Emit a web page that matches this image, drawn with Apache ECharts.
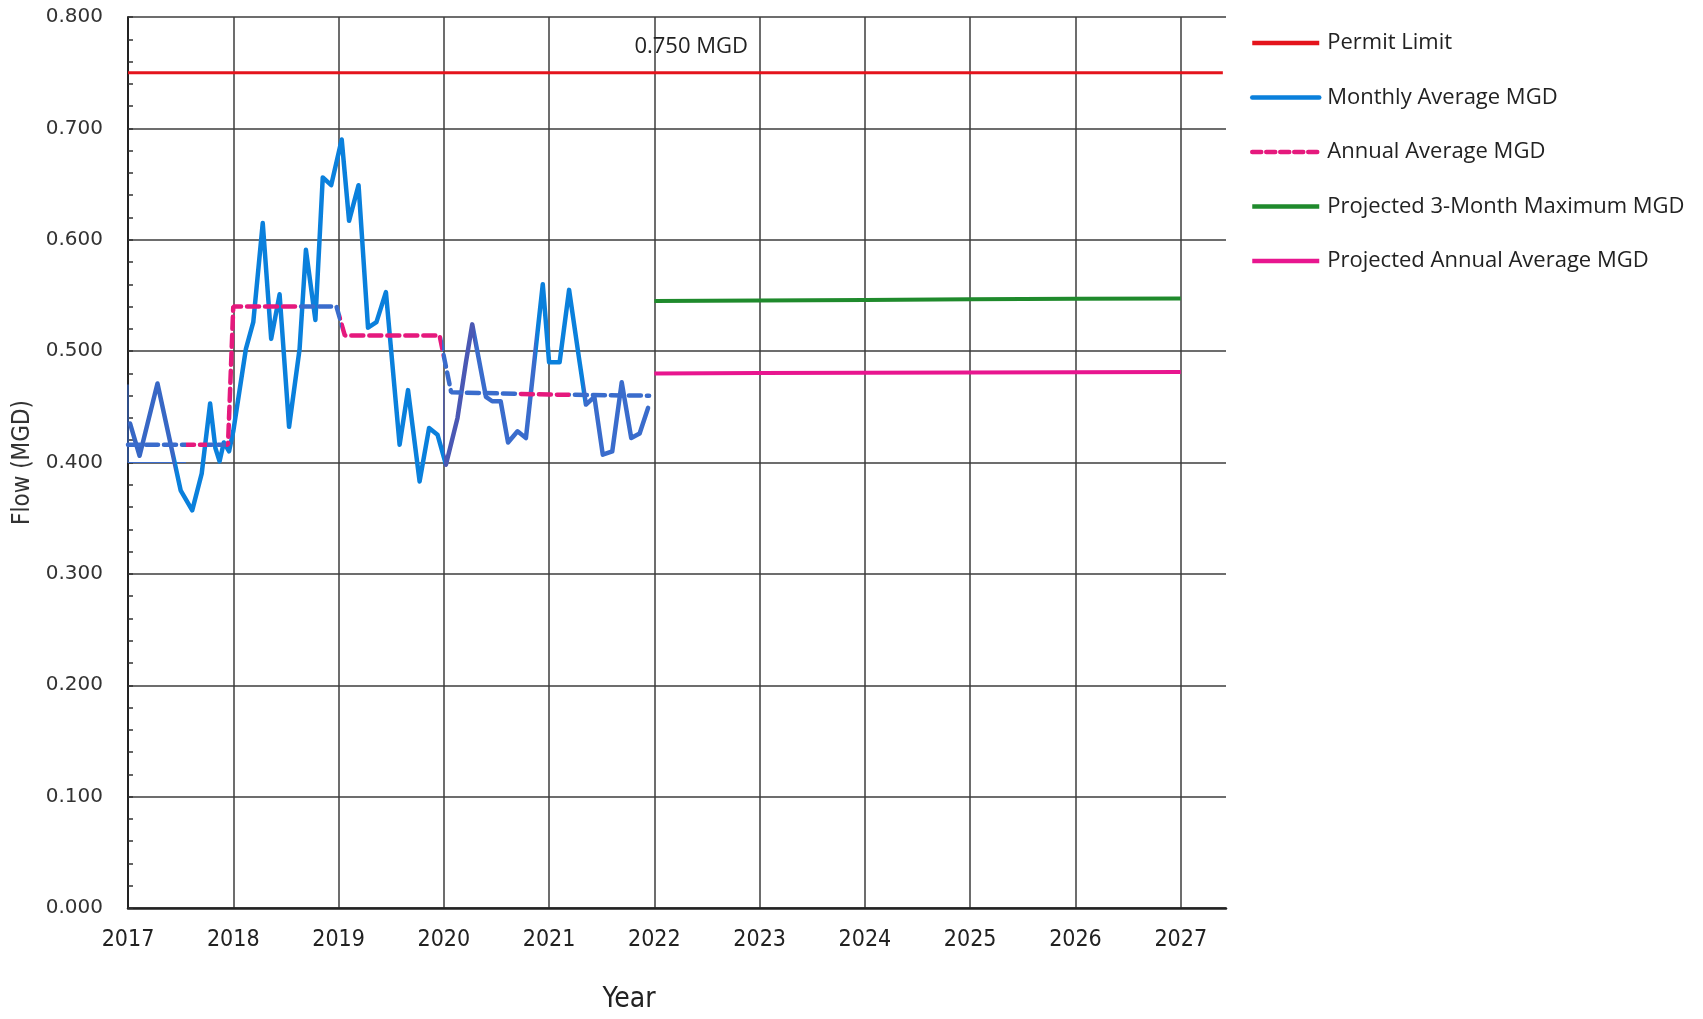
<!DOCTYPE html>
<html><head><meta charset="utf-8">
<script src="https://cdn.jsdelivr.net/npm/echarts@6/dist/echarts.min.js"></script>
<style>html,body{margin:0;padding:0;background:#fff}#c{width:1703px;height:1019px}</style>
</head><body><div id="c"></div>
<script>
// ---- data ----
const permitLimit = 0.750;
const permitYears = [2017, 2027.4];
const permitLabelYear = 2022.35;

const monthlyYears = [2017.02, 2017.11, 2017.28, 2017.50, 2017.61, 2017.70, 2017.78, 2017.83, 2017.87, 2017.91, 2017.96,
  2018.00, 2018.12, 2018.19, 2018.28, 2018.36, 2018.44, 2018.53, 2018.63, 2018.69, 2018.78, 2018.85, 2018.93,
  2019.03, 2019.10, 2019.19, 2019.28, 2019.36, 2019.45, 2019.58, 2019.66, 2019.77, 2019.86, 2019.94,
  2020.02, 2020.13, 2020.21, 2020.27, 2020.40, 2020.46, 2020.54, 2020.61, 2020.70, 2020.78, 2020.94,
  2021.00, 2021.10, 2021.19, 2021.29, 2021.35, 2021.43, 2021.51, 2021.60, 2021.69, 2021.78, 2021.86, 2021.94];
const monthlyFlow = [0.435, 0.406, 0.471, 0.375, 0.357, 0.390, 0.453, 0.413, 0.401, 0.418, 0.410,
  0.428, 0.502, 0.526, 0.615, 0.511, 0.551, 0.432, 0.502, 0.591, 0.528, 0.656, 0.649,
  0.690, 0.617, 0.649, 0.521, 0.526, 0.553, 0.416, 0.465, 0.383, 0.431, 0.425,
  0.398, 0.440, 0.490, 0.524, 0.459, 0.455, 0.455, 0.418, 0.428, 0.422, 0.560,
  0.490, 0.490, 0.555, 0.490, 0.452, 0.459, 0.407, 0.410, 0.472, 0.422, 0.426, 0.449];

const annualYears = [2017.0, 2017.95, 2018.0, 2018.98, 2019.06, 2019.96, 2020.07, 2021.0, 2021.95];
const annualFlow  = [0.416, 0.416, 0.540, 0.540, 0.514, 0.514, 0.463, 0.461, 0.460];

const projYears = [2022, 2023, 2024, 2025, 2026, 2027];
const proj3MonthMax = [0.545, 0.5455, 0.546, 0.5465, 0.547, 0.5473];
const projAnnualAvg = [0.480, 0.4803, 0.4806, 0.4808, 0.481, 0.4812];

// thin blue guide strokes visible in the original graphic
const guide2017Years = [2017, 2017, 2017.55];
const guide2017Flow  = [0.470, 0.400, 0.400];
const guide2020Years = [2020, 2020];
const guide2020Flow  = [0.469, 0.400];

const seriesNames = ['Permit Limit', 'Monthly Average MGD', 'Annual Average MGD',
  'Projected 3-Month Maximum MGD', 'Projected Annual Average MGD'];

// ---- build ----
const zip = (xs, ys) => xs.map((x, i) => [x, ys[i]]);
const C = {
  red: '#e4141c', blueL: '#0a80dc', blueD: '#3a6ccc', blueP: '#4a58b4', blueS: '#3767c5',
  pink: '#e5197d', green: '#1f8a2c', magenta: '#e8168f'
};
const condensed = "'Liberation Sans Narrow','DejaVu Sans Condensed','Roboto Condensed',sans-serif";
const hideSym = {opacity: 0};
const chart = echarts.init(document.getElementById('c'), null, {renderer: 'canvas'});
const option = {
  animation: false,
  backgroundColor: '#fff',
  grid: {left: 128, right: 477, top: 17, bottom: 102, containLabel: false},
  xAxis: {
    type: 'value', min: 2017, max: 2027.43, interval: 1,
    name: 'Year', nameLocation: 'middle', nameGap: 78,
    nameTextStyle: {fontFamily: condensed, fontSize: 28, color: '#222', padding: [0, 96, 0, 0]},
    axisLine: {show: true, lineStyle: {color: '#222', width: 2.5}},
    axisTick: {show: false},
    axisLabel: {fontFamily: condensed, fontSize: 23, color: '#222', margin: 21, showMaxLabel: false,
      formatter: v => Number.isInteger(v) ? String(v) : ''},
    splitLine: {show: true, showMaxLine: false, lineStyle: {color: '#3c3c3c', width: 1.5}}
  },
  yAxis: {
    type: 'value', min: 0, max: 0.8, interval: 0.1,
    name: 'Flow (MGD)', nameLocation: 'middle', nameGap: 87,
    nameTextStyle: {fontFamily: condensed, fontSize: 24, color: '#333'},
    axisLine: {show: true, lineStyle: {color: '#222', width: 2}},
    axisTick: {show: true, inside: true, length: 5, lineStyle: {color: '#333', width: 1.5}},
    minorTick: {show: true, splitNumber: 5, length: 5, lineStyle: {color: '#333', width: 1.5}},
    axisLabel: {fontFamily: 'DejaVu Sans', fontSize: 20, color: '#333', margin: 25,
      formatter: v => v.toFixed(3)},
    splitLine: {show: true, lineStyle: {color: '#3c3c3c', width: 1.5}}
  },
  legend: {
    orient: 'vertical', left: 1245, top: 26, itemWidth: 67, itemHeight: 16, itemGap: 30.5,
    textStyle: {fontFamily: 'Open Sans', fontSize: 22, lineHeight: 24, color: '#222', padding: [0, 0, 0, 3]},
    data: [
      {name: seriesNames[0], itemStyle: hideSym, lineStyle: {color: C.red, width: 4.5}},
      {name: seriesNames[1], itemStyle: hideSym, lineStyle: {color: C.blueL, width: 4.5}},
      {name: seriesNames[2], itemStyle: hideSym, lineStyle: {color: C.pink, width: 4.5, type: [9, 5], cap: 'round'}},
      {name: seriesNames[3], itemStyle: hideSym, lineStyle: {color: C.green, width: 4.5}},
      {name: seriesNames[4], itemStyle: hideSym, lineStyle: {color: C.magenta, width: 4.5}}
    ]
  },
  visualMap: [
    {show: false, type: 'piecewise', seriesIndex: 1, dimension: 0, pieces: [
      {lte: 2017.45, color: C.blueS},
      {gt: 2017.45, lte: 2020.0, color: C.blueL},
      {gt: 2020.0, lte: 2020.3, color: C.blueP},
      {gt: 2020.3, lte: 2020.88, color: C.blueD},
      {gt: 2020.88, lte: 2021.33, color: C.blueL},
      {gt: 2021.33, color: C.blueD}
    ]},
    {show: false, type: 'piecewise', seriesIndex: 2, dimension: 0, pieces: [
      {lte: 2017.55, color: C.blueD},
      {gt: 2017.55, lte: 2017.75, color: C.pink},
      {gt: 2017.75, lte: 2017.93, color: C.blueD},
      {gt: 2017.93, lte: 2018.62, color: C.pink},
      {gt: 2018.62, lte: 2019.02, color: C.blueD},
      {gt: 2019.02, lte: 2019.98, color: C.pink},
      {gt: 2019.98, lte: 2020.7, color: C.blueD},
      {gt: 2020.7, lte: 2021.2, color: C.pink},
      {gt: 2021.2, color: C.blueD}
    ]}
  ],
  series: [
    {name: seriesNames[0], type: 'line', symbol: 'none', data: permitYears.map(x => [x, permitLimit]),
      lineStyle: {color: C.red, width: 3}, itemStyle: {color: C.red},
      markPoint: {symbol: 'circle', symbolSize: 0, silent: true,
        label: {show: true, position: 'inside', offset: [0, -26], formatter: permitLimit.toFixed(3) + ' MGD',
          fontFamily: 'Open Sans', fontSize: 22, color: '#222'},
        data: [{coord: [permitLabelYear, permitLimit]}]}},
    {name: seriesNames[1], type: 'line', symbol: 'none', data: zip(monthlyYears, monthlyFlow),
      lineStyle: {width: 4.5, join: 'round', cap: 'round'}, itemStyle: {color: C.blueL}, z: 3},
    {name: seriesNames[2], type: 'line', symbol: 'none', data: zip(annualYears, annualFlow),
      lineStyle: {width: 4.5, type: [12, 6], cap: 'round'}, itemStyle: {color: C.pink}, z: 4},
    {name: seriesNames[3], type: 'line', symbol: 'none', data: zip(projYears, proj3MonthMax),
      lineStyle: {color: C.green, width: 4}, itemStyle: {color: C.green}},
    {name: seriesNames[4], type: 'line', symbol: 'none', data: zip(projYears, projAnnualAvg),
      lineStyle: {color: C.magenta, width: 4}, itemStyle: {color: C.magenta}},
    {type: 'line', symbol: 'none', silent: true, data: zip(guide2017Years, guide2017Flow),
      lineStyle: {color: C.blueD, width: 1.2}, z: 2},
    {type: 'line', symbol: 'none', silent: true, data: zip(guide2020Years, guide2020Flow),
      lineStyle: {color: C.blueP, width: 1.2}, z: 2}
  ]
};
chart.setOption(option);
</script>
</body></html>
